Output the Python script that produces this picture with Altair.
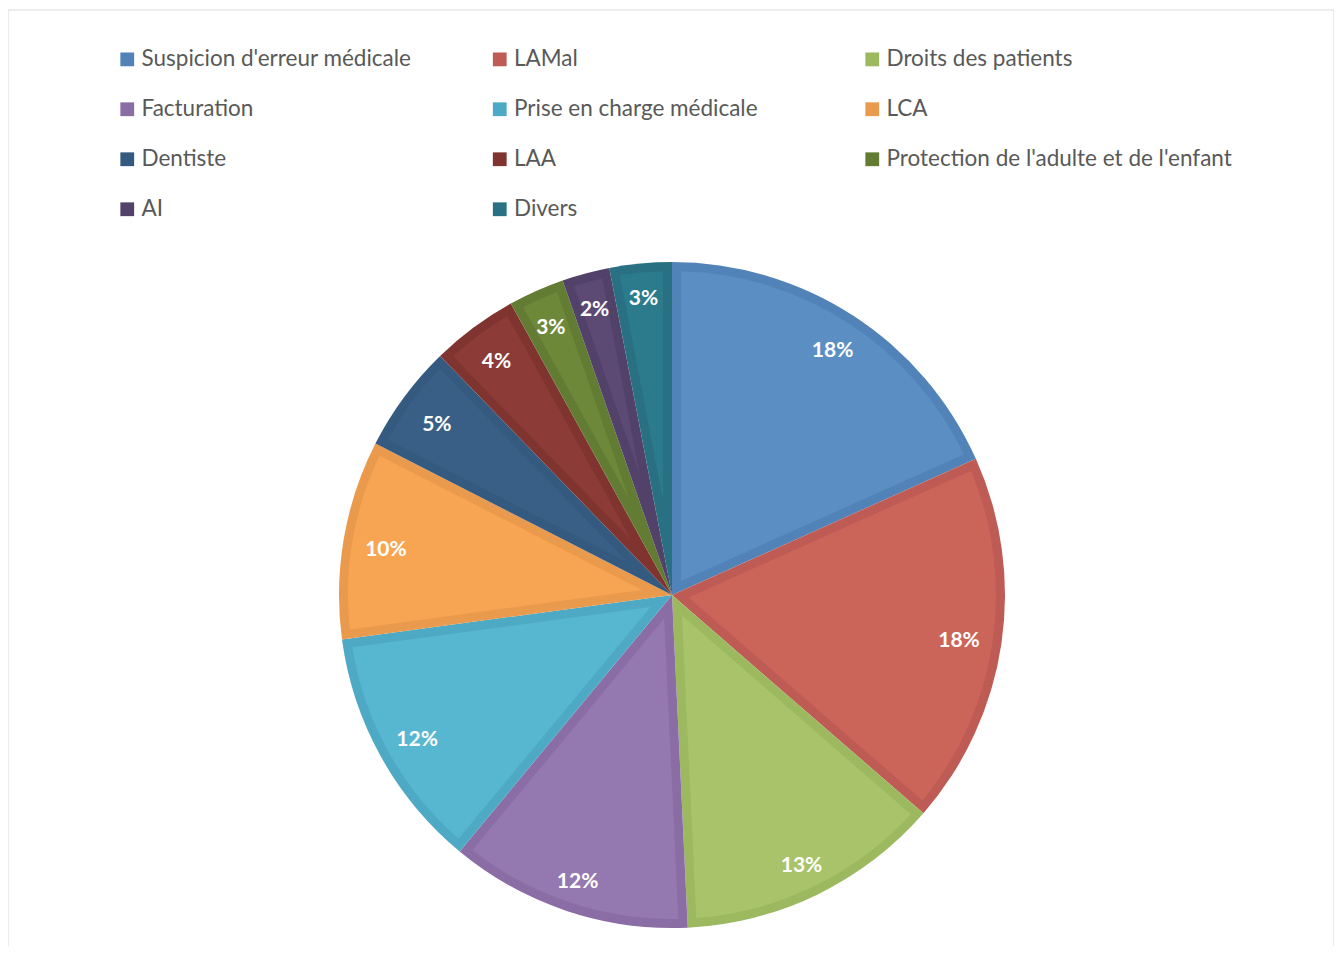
import altair as alt
import pandas as pd

categories = [
    "Suspicion d'erreur médicale", "LAMal", "Droits des patients",
    "Facturation", "Prise en charge médicale", "LCA",
    "Dentiste", "LAA", "Protection de l'adulte et de l'enfant",
    "AI", "Divers",
]
shares = [18.2, 18.0, 12.8, 11.7, 11.8, 9.6, 5.2, 4.2, 2.7, 2.3, 3.0]
band_colors = ["#5283B8", "#BE5B55", "#9CB960", "#8A6DA5", "#4EAAC4", "#EA9A4C",
               "#355A80", "#7F3430", "#637C33", "#52426A", "#287082"]
fill_colors = ["#5B8FC4", "#CB6459", "#A9C36A", "#9479B0", "#57B6D0", "#F8A553",
               "#3A5F87", "#8C3B37", "#6E8839", "#5C4A75", "#2C7B8D"]

df = pd.DataFrame({
    "idx": list(range(len(categories))),
    "category": categories,
    "share": shares,
    "light": fill_colors,
})

R = 333      # outer radius
W = 9        # inner band width
R1 = R - W
CX, CY = 664, 585
PW, PH = 1326, 936

base = alt.Chart(df).transform_joinaggregate(
    total="sum(share)"
).transform_window(
    cum="sum(share)", sort=[alt.SortField("idx")]
).transform_calculate(
    frac="datum.share / datum.total",
    half="PI * datum.share / datum.total",
    mid="2 * PI * (datum.cum - datum.share / 2) / datum.total",
).transform_calculate(
    r0=f"{W} / sin(datum.half)",
).transform_calculate(
    pad=f"2 * asin({W} / sqrt(datum.r0 * datum.r0 + {R1} * {R1}))",
).encode(
    theta=alt.Theta("share:Q", stack=True),
    order=alt.Order("idx:Q"),
    x=alt.value(CX),
    y=alt.value(CY),
)

outer = base.mark_arc(radius=R).encode(
    color=alt.Color(
        "category:N",
        scale=alt.Scale(domain=categories, range=band_colors),
        legend=alt.Legend(
            title=None, orient="none", legendX=108, legendY=38,
            direction="horizontal",
            columns=3, gridAlign="all", columnPadding=1.5, rowPadding=27,
            symbolType="square", symbolSize=190, symbolStrokeWidth=0,
            labelFont="Lato", labelFontSize=22.5, labelColor="#595959",
            labelLimit=0, labelOffset=3, padding=0,
        ),
    )
)

inner = base.mark_arc(
    radius=R1,
    radius2=alt.ExprRef(expr="datum.r0"),
    padAngle=alt.ExprRef(expr="datum.pad"),
).encode(
    fill=alt.Fill("light:N", scale=None)
)

labels = base.mark_text(
    radius=alt.ExprRef(expr="302 - 12 * abs(sin(datum.mid))"),
    font="Lato", fontWeight="bold", fontSize=21, fill="white", dy=4
).encode(
    text=alt.Text("frac:Q", format=".0%")
)

frame = alt.Chart(pd.DataFrame({"a": [0]})).mark_rect(
    fill=None, stroke="#D9D9D9", strokeWidth=1
).encode(
    x=alt.value(0), x2=alt.value(PW), y=alt.value(0), y2=alt.value(PH + 40)
)

chart = alt.layer(frame, outer, inner, labels).properties(
    width=PW, height=PH,
    padding={"left": 0, "top": 2, "right": 0, "bottom": 0},
    autosize="none",
    background="white",
).configure_view(stroke=None)

chart.save("out.html", embed_options={"renderer": "svg", "actions": False})
